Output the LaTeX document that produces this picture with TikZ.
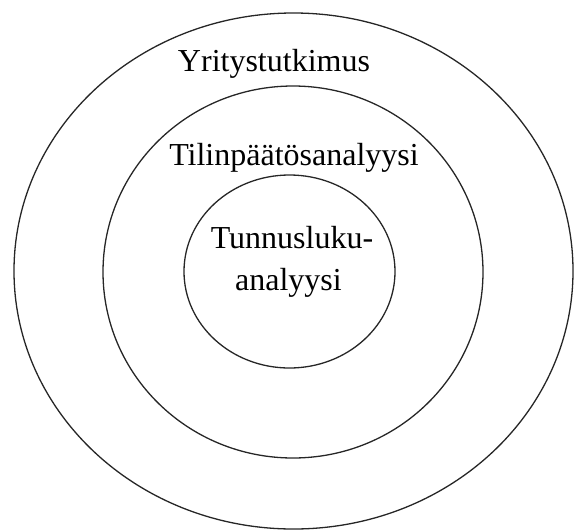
\documentclass[tikz,border=0pt]{standalone}
\usepackage{fontspec}
\setmainfont{Liberation Serif}
\begin{document}
\begin{tikzpicture}[x=1pt,y=-1pt,
  ring/.style={draw=black!85,line width=1.3pt},
  lbl/.style={anchor=base,inner sep=0pt,font=\fontsize{32}{38}\selectfont}]
\useasboundingbox (0,0) rectangle (576,531);
\draw[ring] (293.5,271) ellipse [x radius=279.5,y radius=258];
\draw[ring] (293,272) ellipse [x radius=190,y radius=186];
\draw[ring] (289.5,271.5) ellipse [x radius=105.5,y radius=96.5];
\node[lbl] (outer) at (274,71) {Yritystutkimus};
\node[lbl] (middle) at (294,165) {Tilinpäätösanalyysi};
\node[lbl] (inner1) at (292,248) {Tunnusluku-};
\node[lbl] (inner2) at (288.5,290) {analyysi};
\end{tikzpicture}
\end{document}
